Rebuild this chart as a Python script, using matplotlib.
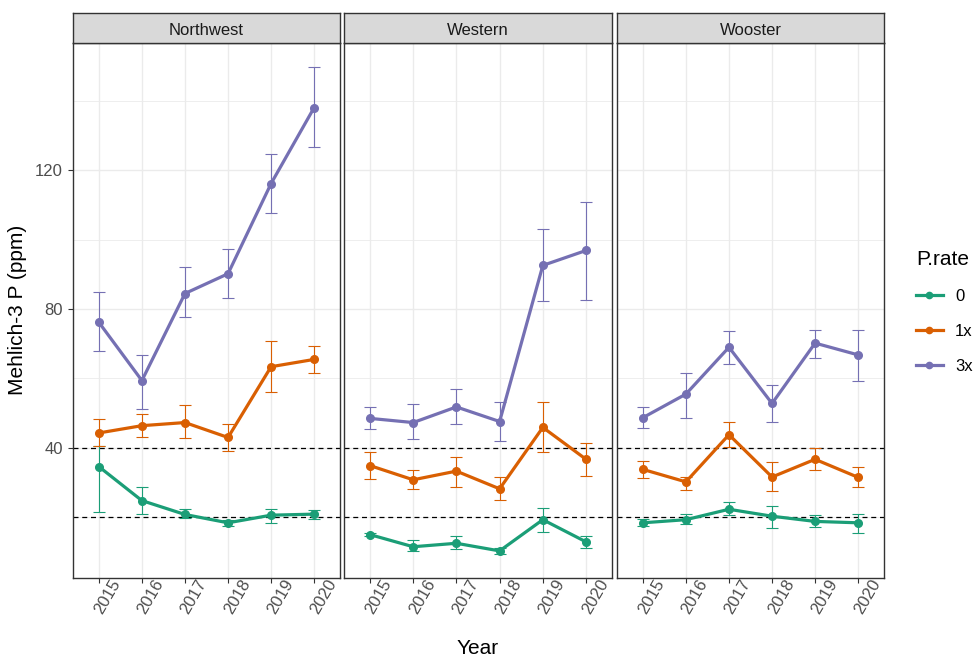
import numpy as np
import matplotlib
matplotlib.use("Agg")
import matplotlib.pyplot as plt
from matplotlib.lines import Line2D
from matplotlib.transforms import ScaledTranslation

plt.rcParams['font.family'] = ['Liberation Sans', 'DejaVu Sans']

years = [2015, 2016, 2017, 2018, 2019, 2020]
sites = ["Northwest", "Western", "Wooster"]
rates = ["0", "1x", "3x"]
colors = ["#1B9E77", "#D95F02", "#7570B3"]

# means, rows = rate (0, 1x, 3x)
nw_mean = [[34.6, 24.8, 20.8, 18.4, 20.6, 20.9],
           [44.3, 46.4, 47.3, 43.0, 63.4, 65.5],
           [76.2, 59.4, 84.5, 90.2, 116.2, 138.1]]
nw_hi = [[40.5, 28.7, 22.4, 19.2, 22.4, 22.1],
         [48.4, 49.9, 52.4, 46.9, 70.7, 69.5],
         [84.8, 66.9, 92.1, 97.3, 124.7, 149.7]]
nw_lo = [[21.4, 20.9, 19.7, 17.6, 18.3, 19.5],
         [40.5, 43.1, 42.8, 39.1, 56.1, 61.7],
         [67.8, 51.3, 77.6, 83.1, 107.6, 126.7]]

we_mean = [[15.0, 11.5, 12.5, 10.3, 19.3, 12.9],
           [34.9, 30.8, 33.3, 28.2, 45.9, 36.7],
           [48.5, 47.3, 51.8, 47.6, 92.6, 96.9]]
we_hi = [[15.5, 13.4, 14.7, 11.1, 22.6, 14.7],
         [38.8, 33.6, 37.4, 31.6, 53.1, 41.4],
         [51.8, 52.6, 57.0, 53.2, 103.2, 111.0]]
we_lo = [[14.5, 10.3, 10.8, 9.5, 15.8, 11.2],
         [31.0, 28.2, 28.8, 25.0, 38.9, 32.0],
         [45.4, 42.7, 46.9, 42.0, 82.3, 82.5]]

wo_mean = [[18.4, 19.3, 22.3, 20.3, 18.8, 18.4],
           [33.8, 30.2, 43.8, 31.6, 36.7, 31.5],
           [48.7, 55.5, 69.0, 52.8, 70.2, 66.8]]
wo_hi = [[19.4, 20.9, 24.5, 23.2, 20.6, 20.9],
         [36.2, 31.5, 47.6, 35.9, 39.9, 34.6],
         [51.9, 61.6, 73.7, 58.0, 73.9, 73.9]]
wo_lo = [[17.4, 18.0, 20.6, 16.8, 17.1, 15.4],
         [31.2, 28.0, 40.2, 27.5, 33.7, 28.6],
         [45.7, 48.7, 64.2, 47.6, 65.9, 59.4]]

hlines = [40, 20]
ybreaks = [40, 80, 120]
yminor = [20, 60, 100, 140]

site_data = [(nw_mean, nw_lo, nw_hi), (we_mean, we_lo, we_hi), (wo_mean, wo_lo, wo_hi)]

W, H = 976, 660
fig = plt.figure(figsize=(W / 100, H / 100), dpi=100)

# panel pixel boxes
panel_x = [(73, 340), (344, 612), (617, 884)]
ptop, pbot, stop = 43, 578, 13

allv = np.array([site_data[i][j] for i in range(3) for j in (1, 2)])
vmin, vmax = allv.min(), allv.max()
pad = 0.05 * (vmax - vmin)
ylim = (vmin - pad, vmax + pad)

edge = "#333333"
for k, site in enumerate(sites):
    x0, x1 = panel_x[k]
    ax = fig.add_axes([x0 / W, 1 - pbot / H, (x1 - x0) / W, (pbot - ptop) / H])
    mean, lo, hi = site_data[k]
    for r in range(3):
        m = np.array(mean[r])
        yerr = [m - np.array(lo[r]), np.array(hi[r]) - m]
        ax.errorbar(years, m, yerr=yerr, fmt="none", ecolor=colors[r],
                    elinewidth=0.8, capsize=4.3, capthick=0.8, zorder=3)
        ax.plot(years, m, "-o", color=colors[r], lw=2.3, ms=5.5, zorder=4)
    for h in hlines:
        ax.axhline(h, color="black", ls=(0, (4, 3)), lw=0.9, zorder=2)
    ax.set_xlim(2014.4, 2020.6)
    ax.set_ylim(*ylim)
    ax.set_xticks(years)
    ax.set_xticklabels([str(y) for y in years])
    ax.set_yticks(ybreaks)
    ax.set_yticks(yminor, minor=True)
    ax.grid(True, which="major", color="#EBEBEB", lw=1.0, zorder=0)
    ax.grid(True, which="minor", axis="y", color="#EBEBEB", lw=0.6, zorder=0)
    ax.set_axisbelow(True)
    for s in ax.spines.values():
        s.set_color(edge)
        s.set_linewidth(1.0)
    ax.tick_params(axis="both", which="major", length=3.7, width=0.8, color=edge,
                   labelsize=12, labelcolor="#4D4D4D")
    ax.tick_params(axis="y", which="minor", length=0)
    ax.tick_params(axis="x", pad=7)
    for lab in ax.get_xticklabels():
        lab.set_rotation(60)
        lab.set_rotation_mode("anchor")
        lab.set_ha("center")
        lab.set_va("center")
        lab.set_transform(lab.get_transform() + ScaledTranslation(0.09, -0.04, fig.dpi_scale_trans))
    if k > 0:
        ax.tick_params(axis="y", which="major", length=0, labelleft=False)

    # facet strip
    sax = fig.add_axes([x0 / W, 1 - ptop / H, (x1 - x0) / W, (ptop - stop) / H])
    sax.set_facecolor("#D9D9D9")
    sax.set_xticks([])
    sax.set_yticks([])
    for s in sax.spines.values():
        s.set_color(edge)
        s.set_linewidth(1.0)
    sax.text(0.5, 0.42, site, ha="center", va="center", fontsize=12,
             color="#1A1A1A", transform=sax.transAxes)

fig.text(18 / W, 1 - 310 / H, "Mehlich-3 P (ppm)", rotation=90, ha="center",
         va="center", fontsize=15)
fig.text(478 / W, 1 - 648 / H, "Year", ha="center", va="center", fontsize=15)

handles = [Line2D([0], [0], color=c, lw=2.3, marker="o", ms=4.5) for c in colors]
fig.legend(handles, rates, loc="upper left", bbox_to_anchor=(916 / W, 1 - 250 / H),
           frameon=False, title="P.rate", title_fontsize=15, fontsize=12,
           alignment="left", borderpad=0, borderaxespad=0, handlelength=1.6,
           handletextpad=0.75, labelspacing=1.2)

fig.savefig("out.png", dpi=100)
